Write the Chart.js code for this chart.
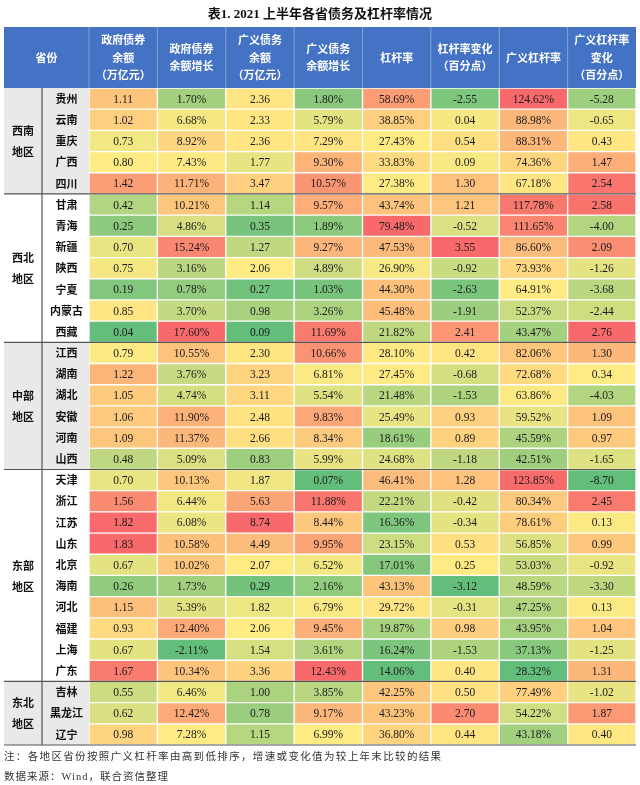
<!DOCTYPE html>
<html>
<head>
<meta charset="utf-8">
<script src="https://cdn.jsdelivr.net/npm/chart.js@4.4.1/dist/chart.umd.min.js"></script>
<style>
  body { margin: 0; background: #fff; }
  #wrap { position: relative; width: 640px; height: 785px; }
  #title { position: absolute; top: 5px; left: 0; width: 640px; text-align: center;
    font: bold 13px "Liberation Serif", "Noto Sans CJK SC"; line-height: 18px; color: #111; }
  .note { position: absolute; left: 4px; font: 10.5px "Liberation Serif", "Noto Sans CJK SC";
    letter-spacing: 1.35px; color: #333; line-height: 14px; white-space: nowrap; }
</style>
</head>
<body>
<div id="wrap">
  <canvas id="tbl" width="640" height="785"></canvas>
  <div id="title">表1. 2021 上半年各省债务及杠杆率情况</div>
  <div class="note" style="top:750px">注：各地区省份按照广义杠杆率由高到低排序，增速或变化值为较上年末比较的结果</div>
  <div class="note" style="top:770px;letter-spacing:1px">数据来源：Wind，联合资信整理</div>
</div>
<script>
// 省份（按地区分组）
const provinces = ['贵州','云南','重庆','广西','四川',
  '甘肃','青海','新疆','陕西','宁夏','内蒙古','西藏',
  '江西','湖南','湖北','安徽','河南','山西',
  '天津','浙江','江苏','山东','北京','海南','河北','福建','上海','广东',
  '吉林','黑龙江','辽宁'];
const groupNames = ['西南','西北','中部','东部','东北'];
const groupSizes = [5, 7, 6, 10, 3];

// 列标题
const headers = [
  ['政府债券','余额','（万亿元）'],
  ['政府债券','余额增长'],
  ['广义债务','余额','（万亿元）'],
  ['广义债务','余额增长'],
  ['杠杆率'],
  ['杠杆率变化','（百分点）'],
  ['广义杠杆率'],
  ['广义杠杆率','变化','（百分点）']
];
const pctCols = [false, true, false, true, true, false, true, false];

const govBond = [1.11,1.02,0.73,0.80,1.42, 0.42,0.25,0.70,0.75,0.19,0.85,0.04,
  0.79,1.22,1.05,1.06,1.09,0.48, 0.70,1.56,1.82,1.83,0.67,0.26,1.15,0.93,0.67,1.67,
  0.55,0.62,0.98];
const govBondGrowth = [1.70,6.68,8.92,7.43,11.71, 10.21,4.86,15.24,3.16,0.78,3.70,17.60,
  10.55,3.76,4.74,11.90,11.37,5.09, 10.13,6.44,6.08,10.58,10.02,1.73,5.39,12.40,-2.11,10.34,
  6.46,12.42,7.28];
const broadDebt = [2.36,2.33,2.36,1.77,3.47, 1.14,0.35,1.27,2.06,0.27,0.98,0.09,
  2.30,3.23,3.11,2.48,2.66,0.83, 1.87,5.63,8.74,4.49,2.07,0.29,1.82,2.06,1.54,3.36,
  1.00,0.78,1.15];
const broadDebtGrowth = [1.80,5.79,7.29,9.30,10.57, 9.57,1.89,9.27,4.89,1.03,3.26,11.69,
  10.66,6.81,5.54,9.83,8.34,5.99, 0.07,11.88,8.44,9.95,6.52,2.16,6.79,9.45,3.61,12.43,
  3.85,9.17,6.99];
const leverage = [58.69,38.85,27.43,33.83,27.38, 43.74,79.48,47.53,26.90,44.30,45.48,21.82,
  28.10,27.45,21.48,25.49,18.61,24.68, 46.41,22.21,16.36,23.15,17.01,43.13,29.72,19.87,16.24,14.06,
  42.25,43.23,36.80];
const leverageChg = [-2.55,0.04,0.54,0.09,1.30, 1.21,-0.52,3.55,-0.92,-2.63,-1.91,2.41,
  0.42,-0.68,-1.53,0.93,0.89,-1.18, 1.28,-0.42,-0.34,0.53,0.25,-3.12,-0.31,0.98,-1.53,0.40,
  0.50,2.70,0.44];
const broadLeverage = [124.62,88.98,88.31,74.36,67.18, 117.78,111.65,86.60,73.93,64.91,52.37,43.47,
  82.06,72.68,63.86,59.52,45.59,42.51, 123.85,80.34,78.61,56.85,53.03,48.59,47.25,43.95,37.13,28.32,
  77.49,54.22,43.18];
const broadLeverageChg = [-5.28,-0.65,0.43,1.47,2.54, 2.58,-4.00,2.09,-1.26,-3.68,-2.44,2.76,
  1.30,0.34,-4.03,1.09,0.97,-1.65, -8.70,2.45,0.13,0.99,-0.92,-3.30,0.13,1.04,-1.25,1.31,
  -1.02,1.87,0.40];

const columns = [govBond, govBondGrowth, broadDebt, broadDebtGrowth,
  leverage, leverageChg, broadLeverage, broadLeverageChg];

// 三色阶：低=绿，中位数=黄，高=红
const GREEN = [99, 190, 123], YELLOW = [255, 235, 132], RED = [248, 105, 107];
function mix(a, b, t) {
  return 'rgb(' + a.map((v, i) => Math.round(v + (b[i] - v) * t)).join(',') + ')';
}
function scaleColor(v, arr) {
  const s = [...arr].sort((a, b) => a - b);
  const min = s[0], max = s[s.length - 1];
  const mid = s.length % 2 ? s[(s.length - 1) / 2] : (s[s.length / 2 - 1] + s[s.length / 2]) / 2;
  if (v <= mid) return mix(GREEN, YELLOW, mid === min ? 1 : (v - min) / (mid - min));
  return mix(YELLOW, RED, (v - mid) / (max - mid));
}

const datasets = columns.map((col, c) => ({
  data: col.map(() => [c, c + 1]),
  backgroundColor: col.map(v => scaleColor(v, col)),
  borderColor: 'rgba(255,255,255,0.35)',
  borderWidth: 1,
  borderSkipped: false,
  grouped: false,
  categoryPercentage: 1,
  barPercentage: 1
}));

const LEFT = 4, SPLIT = 42;
const CJK = '"Noto Sans CJK SC"';

const tableDecor = {
  id: 'tableDecor',
  beforeDatasetsDraw(chart) {
    const { ctx, chartArea: a } = chart;
    const rowH = (a.bottom - a.top) / provinces.length;
    ctx.save();
    // 左侧地区底色
    let start = 0;
    groupSizes.forEach((n, g) => {
      if (g % 2 === 0) {
        ctx.fillStyle = '#e9e9e9';
        ctx.fillRect(LEFT, a.top + start * rowH, a.left - LEFT, n * rowH);
      }
      start += n;
    });
    // 表头
    ctx.fillStyle = '#4472c4';
    ctx.fillRect(LEFT, 27, a.right - LEFT, a.top - 27);
    ctx.restore();
  },
  afterDatasetsDraw(chart) {
    const { ctx, chartArea: a, scales: { x, y } } = chart;
    const rowH = (a.bottom - a.top) / provinces.length;
    ctx.save();
    ctx.textAlign = 'center';
    ctx.textBaseline = 'middle';

    // 单元格数值
    ctx.fillStyle = '#1a1a1a';
    ctx.font = '11.5px "Liberation Serif"';
    chart.data.datasets.forEach((ds, c) => {
      chart.getDatasetMeta(c).data.forEach((bar, i) => {
        const v = columns[c][i];
        const txt = v.toFixed(2) + (pctCols[c] ? '%' : '');
        ctx.fillText(txt, (bar.x + bar.base) / 2, bar.y + 1);
      });
    });

    // 表头文字
    ctx.strokeStyle = 'rgba(255,255,255,0.35)';
    ctx.lineWidth = 1;
    for (let c = 0; c < headers.length; c++) {
      const x0 = x.getPixelForValue(c);
      ctx.beginPath(); ctx.moveTo(x0, 27); ctx.lineTo(x0, a.top); ctx.stroke();
    }
    ctx.fillStyle = '#fff';
    ctx.font = 'bold 11px ' + CJK;
    const hMid = (27 + a.top) / 2;
    headers.forEach((lines, c) => {
      const cx = (x.getPixelForValue(c) + x.getPixelForValue(c + 1)) / 2;
      lines.forEach((t, k) => {
        ctx.fillText(t, cx, hMid + (k - (lines.length - 1) / 2) * 17.5);
      });
    });
    ctx.fillText('省份', (LEFT + a.left) / 2, hMid);

    // 省份名称
    ctx.fillStyle = '#111';
    ctx.font = 'bold 11px ' + CJK;
    provinces.forEach((p, i) => {
      ctx.fillText(p, (SPLIT + a.left) / 2 + 1, y.getPixelForValue(i));
    });

    // 地区名称及分隔线
    let start = 0;
    ctx.strokeStyle = '#555';
    groupSizes.forEach((n, g) => {
      const top = a.top + start * rowH, bot = top + n * rowH;
      const cy = (top + bot) / 2;
      ctx.fillStyle = '#111';
      ctx.fillText(groupNames[g], (LEFT + SPLIT) / 2, cy - 10);
      ctx.fillText('地区', (LEFT + SPLIT) / 2, cy + 11);
      ctx.lineWidth = 1.2;
      ctx.beginPath(); ctx.moveTo(LEFT, bot); ctx.lineTo(a.right, bot); ctx.stroke();
      start += n;
    });
    ctx.lineWidth = 1.2;
    ctx.beginPath(); ctx.moveTo(SPLIT, a.top); ctx.lineTo(SPLIT, a.bottom); ctx.stroke();
    ctx.restore();
  }
};

new Chart(document.getElementById('tbl'), {
  type: 'bar',
  data: { labels: provinces, datasets },
  options: {
    responsive: false,
    animation: false,
    indexAxis: 'y',
    layout: { padding: { left: 89, right: 4, top: 88, bottom: 40 } },
    scales: {
      x: { type: 'linear', min: 0, max: 8, display: false },
      y: { type: 'category', display: false }
    },
    plugins: { legend: { display: false }, tooltip: { enabled: false } }
  },
  plugins: [tableDecor]
});
</script>
</body>
</html>
